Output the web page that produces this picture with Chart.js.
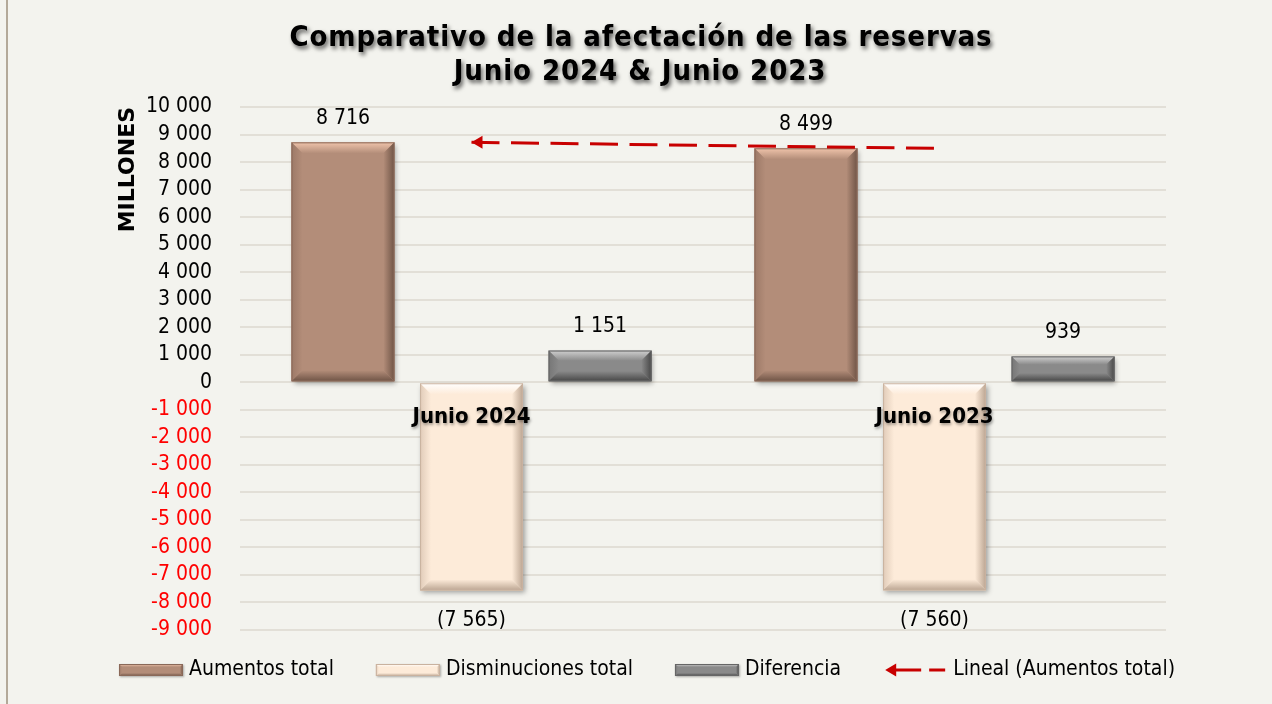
<!DOCTYPE html>
<html><head><meta charset="utf-8">
<script src="https://cdn.jsdelivr.net/npm/chart.js@4/dist/chart.umd.min.js"></script>
<style>html,body{margin:0;padding:0;background:#f3f3ee;}#wrap{width:1272px;height:704px;position:relative;}</style>
</head><body><div id="wrap"><canvas id="c"></canvas></div>
<script>
// ---------- data ----------
const categories = ['Junio 2024', 'Junio 2023'];
const aumentosTotal = [8716, 8499];
const disminucionesTotal = [-7565, -7560];
const diferencia = [1151, 939];
const seriesNames = ['Aumentos total', 'Disminuciones total', 'Diferencia', 'Lineal (Aumentos total)'];
const yTickValues = [-9000, -8000, -7000, -6000, -5000, -4000, -3000, -2000, -1000, 0, 1000, 2000, 3000, 4000, 5000, 6000, 7000, 8000, 9000, 10000];
const titleLines = ['Comparativo de la afectación de las reservas', 'Junio 2024 & Junio 2023'];
const yAxisTitle = 'MILLONES';

// linear trend of "Aumentos total" (least squares over the categories)
function linearTrend(vals) {
  const n = vals.length; let sx = 0, sy = 0, sxy = 0, sxx = 0;
  vals.forEach((v, i) => { sx += i; sy += v; sxy += i * v; sxx += i * i; });
  const m = (n * sxy - sx * sy) / (n * sxx - sx * sx); const b = (sy - m * sx) / n;
  return vals.map((_, i) => b + m * i);
}
const lineal = linearTrend(aumentosTotal);

// ---------- styles ----------
const FONT = "'DejaVu Sans Condensed', 'DejaVu Sans', sans-serif";
const FONT_WIDE = "'DejaVu Sans', sans-serif";
const barStyles = [
  { base: '#b38d79', light: '#f0c4ab', dark: '#6f5446', border: '#8a6959' },
  { base: '#fdebd9', light: '#ffffff', dark: '#bba592', border: '#c9b29f' },
  { base: '#8a8a8a', light: '#d0d0d0', dark: '#474747', border: '#666666' }
];
const trendColor = '#c80000';

const fmt = n => String(Math.round(n)).replace(/\B(?=(\d{3})+(?!\d))/g, ' ');

function bevelRect(ctx, L, T, R, B, st, bsize) {
  const b = Math.min(bsize, (B - T) / 3, (R - L) / 3);
  ctx.save();
  ctx.fillStyle = st.base; ctx.fillRect(L, T, R - L, B - T);
  let g;
  // top
  g = ctx.createLinearGradient(0, T, 0, T + b); g.addColorStop(0, st.light); g.addColorStop(1, st.base);
  ctx.fillStyle = g; ctx.beginPath(); ctx.moveTo(L, T); ctx.lineTo(R, T); ctx.lineTo(R - b, T + b); ctx.lineTo(L + b, T + b); ctx.closePath(); ctx.fill();
  // left
  g = ctx.createLinearGradient(L, 0, L + b, 0); g.addColorStop(0, st.border); g.addColorStop(1, st.base);
  ctx.globalAlpha = 0.55; ctx.fillStyle = g; ctx.beginPath(); ctx.moveTo(L, T); ctx.lineTo(L + b, T + b); ctx.lineTo(L + b, B - b); ctx.lineTo(L, B); ctx.closePath(); ctx.fill();
  ctx.globalAlpha = 1;
  // right
  g = ctx.createLinearGradient(R - b, 0, R, 0); g.addColorStop(0, st.base); g.addColorStop(1, st.dark);
  ctx.fillStyle = g; ctx.beginPath(); ctx.moveTo(R, T); ctx.lineTo(R, B); ctx.lineTo(R - b, B - b); ctx.lineTo(R - b, T + b); ctx.closePath(); ctx.fill();
  // bottom
  g = ctx.createLinearGradient(0, B - b, 0, B); g.addColorStop(0, st.base); g.addColorStop(1, st.dark);
  ctx.fillStyle = g; ctx.beginPath(); ctx.moveTo(L, B); ctx.lineTo(R, B); ctx.lineTo(R - b, B - b); ctx.lineTo(L + b, B - b); ctx.closePath(); ctx.fill();
  ctx.strokeStyle = st.border; ctx.lineWidth = 1; ctx.strokeRect(L + 0.5, T + 0.5, R - L - 1, B - T - 1);
  ctx.restore();
}

function drawArrowHead(ctx, x, y, len, half, color) {
  ctx.save(); ctx.fillStyle = color; ctx.beginPath();
  ctx.moveTo(x, y); ctx.lineTo(x + len, y - half); ctx.lineTo(x + len, y + half); ctx.closePath(); ctx.fill(); ctx.restore();
}

const decorPlugin = {
  id: 'decor',
  beforeDraw(chart) {
    const ctx = chart.ctx; ctx.save();
    ctx.fillStyle = '#f3f3ee'; ctx.fillRect(0, 0, chart.width, chart.height);
    ctx.fillStyle = '#b3a999'; ctx.fillRect(6, 0, 2, chart.height);
    ctx.restore();
  },
  beforeDatasetDraw(chart, args) {
    if (args.meta.type !== 'bar') return;
    const ctx = chart.ctx; ctx.save();
    ctx.shadowColor = 'rgba(0,0,0,0.35)'; ctx.shadowBlur = 5; ctx.shadowOffsetX = 2; ctx.shadowOffsetY = 3;
  },
  afterDatasetDraw(chart, args) {
    if (args.meta.type !== 'bar') return;
    const ctx = chart.ctx; ctx.restore();
    const st = barStyles[args.index];
    args.meta.data.forEach(el => {
      const p = el.getProps(['x', 'y', 'base', 'width'], true);
      const L = p.x - p.width / 2, R = p.x + p.width / 2;
      bevelRect(ctx, L, Math.min(p.y, p.base), R, Math.max(p.y, p.base), st, 11);
    });
  },
  afterDatasetsDraw(chart) {
    const ctx = chart.ctx;
    // data labels
    ctx.save();
    ctx.font = '21px ' + FONT; ctx.fillStyle = '#000'; ctx.textAlign = 'center'; ctx.textBaseline = 'middle';
    chart.data.datasets.forEach((ds, di) => {
      const meta = chart.getDatasetMeta(di);
      if (meta.type !== 'bar') return;
      meta.data.forEach((el, i) => {
        const v = ds.data[i];
        const txt = v < 0 ? '(' + fmt(-v) + ')' : fmt(v);
        ctx.fillText(txt, el.x, v < 0 ? el.y + 30 : el.y - 24);
      });
    });
    ctx.restore();
    // arrow at start of trend line
    const lm = chart.getDatasetMeta(3);
    if (lm && lm.data.length) {
      const p0 = lm.data[0];
      drawArrowHead(ctx, p0.x, p0.y, 11, 6.5, trendColor);
    }
    // shadow for x-axis labels drawn on top layer
    ctx.save();
    ctx.shadowColor = 'rgba(0,0,0,0.35)'; ctx.shadowBlur = 3; ctx.shadowOffsetX = 1; ctx.shadowOffsetY = 2;
  },
  afterDraw(chart) {
    const ctx = chart.ctx; ctx.restore();
    // title
    ctx.save();
    ctx.font = 'bold 29px ' + FONT; ctx.textAlign = 'center'; ctx.textBaseline = 'middle'; ctx.fillStyle = '#000';
    ctx.shadowColor = 'rgba(0,0,0,0.6)'; ctx.shadowBlur = 4; ctx.shadowOffsetX = 2; ctx.shadowOffsetY = 3;
    const w1 = ctx.measureText(titleLines[0]).width;
    const target = 703;
    if ('letterSpacing' in ctx && w1 < target) ctx.letterSpacing = ((target - w1) / titleLines[0].length).toFixed(2) + 'px';
    ctx.fillText(titleLines[0], 641, 38);
    ctx.fillText(titleLines[1], 640, 72);
    ctx.restore();
    // legend
    ctx.save();
    ctx.font = '21px ' + FONT; ctx.textBaseline = 'middle'; ctx.fillStyle = '#000';
    const boxW = 64, gap = 6, spacing = 42, cy = 670;
    const widths = seriesNames.map(t => boxW + gap + ctx.measureText(t).width);
    const total = widths.reduce((a, b) => a + b, 0) + spacing * (widths.length - 1);
    let x = 647 - total / 2;
    seriesNames.forEach((t, i) => {
      if (i < 3) {
        ctx.save(); ctx.shadowColor = 'rgba(0,0,0,0.3)'; ctx.shadowBlur = 2; ctx.shadowOffsetX = 1; ctx.shadowOffsetY = 1;
        ctx.fillStyle = barStyles[i].base; ctx.fillRect(x, cy - 6, boxW, 12); ctx.restore();
        bevelRect(ctx, x, cy - 6, x + boxW, cy + 6, barStyles[i], 3);
      } else {
        ctx.save(); ctx.strokeStyle = trendColor; ctx.lineWidth = 3;
        ctx.beginPath(); ctx.moveTo(x + 10, cy); ctx.lineTo(x + 38, cy); ctx.moveTo(x + 46, cy); ctx.lineTo(x + 62, cy); ctx.stroke();
        ctx.restore();
        drawArrowHead(ctx, x + 2, cy, 11, 6.5, trendColor);
      }
      ctx.fillStyle = '#000';
      ctx.fillText(t, x + boxW + gap, cy);
      x += widths[i] + spacing;
    });
    ctx.restore();
  }
};

new Chart(document.getElementById('c'), {
  data: {
    labels: categories,
    datasets: [
      { type: 'bar', label: seriesNames[0], data: aumentosTotal, backgroundColor: barStyles[0].base, order: 1 },
      { type: 'bar', label: seriesNames[1], data: disminucionesTotal, backgroundColor: barStyles[1].base, order: 1 },
      { type: 'bar', label: seriesNames[2], data: diferencia, backgroundColor: barStyles[2].base, order: 1 },
      { type: 'line', label: seriesNames[3], data: lineal, borderColor: trendColor, borderWidth: 3, borderDash: [28, 11.5],
        pointRadius: 0, fill: false, tension: 0, order: 0 }
    ]
  },
  options: {
    responsive: true, maintainAspectRatio: false, animation: false,
    layout: { padding: { left: 0, right: 0, top: 107, bottom: 74 } },
    datasets: { bar: { categoryPercentage: 0.833, barPercentage: 0.8 } },
    plugins: { legend: { display: false }, title: { display: false }, tooltip: { enabled: false } },
    scales: {
      x: {
        type: 'category', position: { y: 0 },
        grid: { display: false }, border: { display: false },
        ticks: { z: 1, padding: 14, color: '#000', font: { family: FONT, size: 22, weight: 'bold' }, maxRotation: 0 }
      },
      y: {
        type: 'linear', position: 'left', min: -9000, max: 10000,
        afterBuildTicks: s => { s.ticks = yTickValues.map(v => ({ value: v })); },
        afterFit: s => { s.width = 240; },
        grid: { color: '#e2dfd7', lineWidth: 2, drawTicks: false },
        border: { display: false },
        ticks: {
          padding: 28, autoSkip: false,
          color: c => (c.tick && c.tick.value < 0 ? '#ff0000' : '#000000'),
          font: { family: FONT, size: 21 },
          callback: v => (v < 0 ? '-' : '') + fmt(Math.abs(v))
        },
        title: { display: true, text: yAxisTitle, align: 'end', color: '#000', padding: { top: 115 }, font: { family: FONT_WIDE, size: 22, weight: 'bold' } }
      },
      yR: {
        type: 'linear', position: 'right', display: true,
        grid: { display: false }, border: { display: false }, ticks: { display: false },
        afterFit: s => { s.width = 106; }
      }
    }
  },
  plugins: [decorPlugin]
});
</script></body></html>
